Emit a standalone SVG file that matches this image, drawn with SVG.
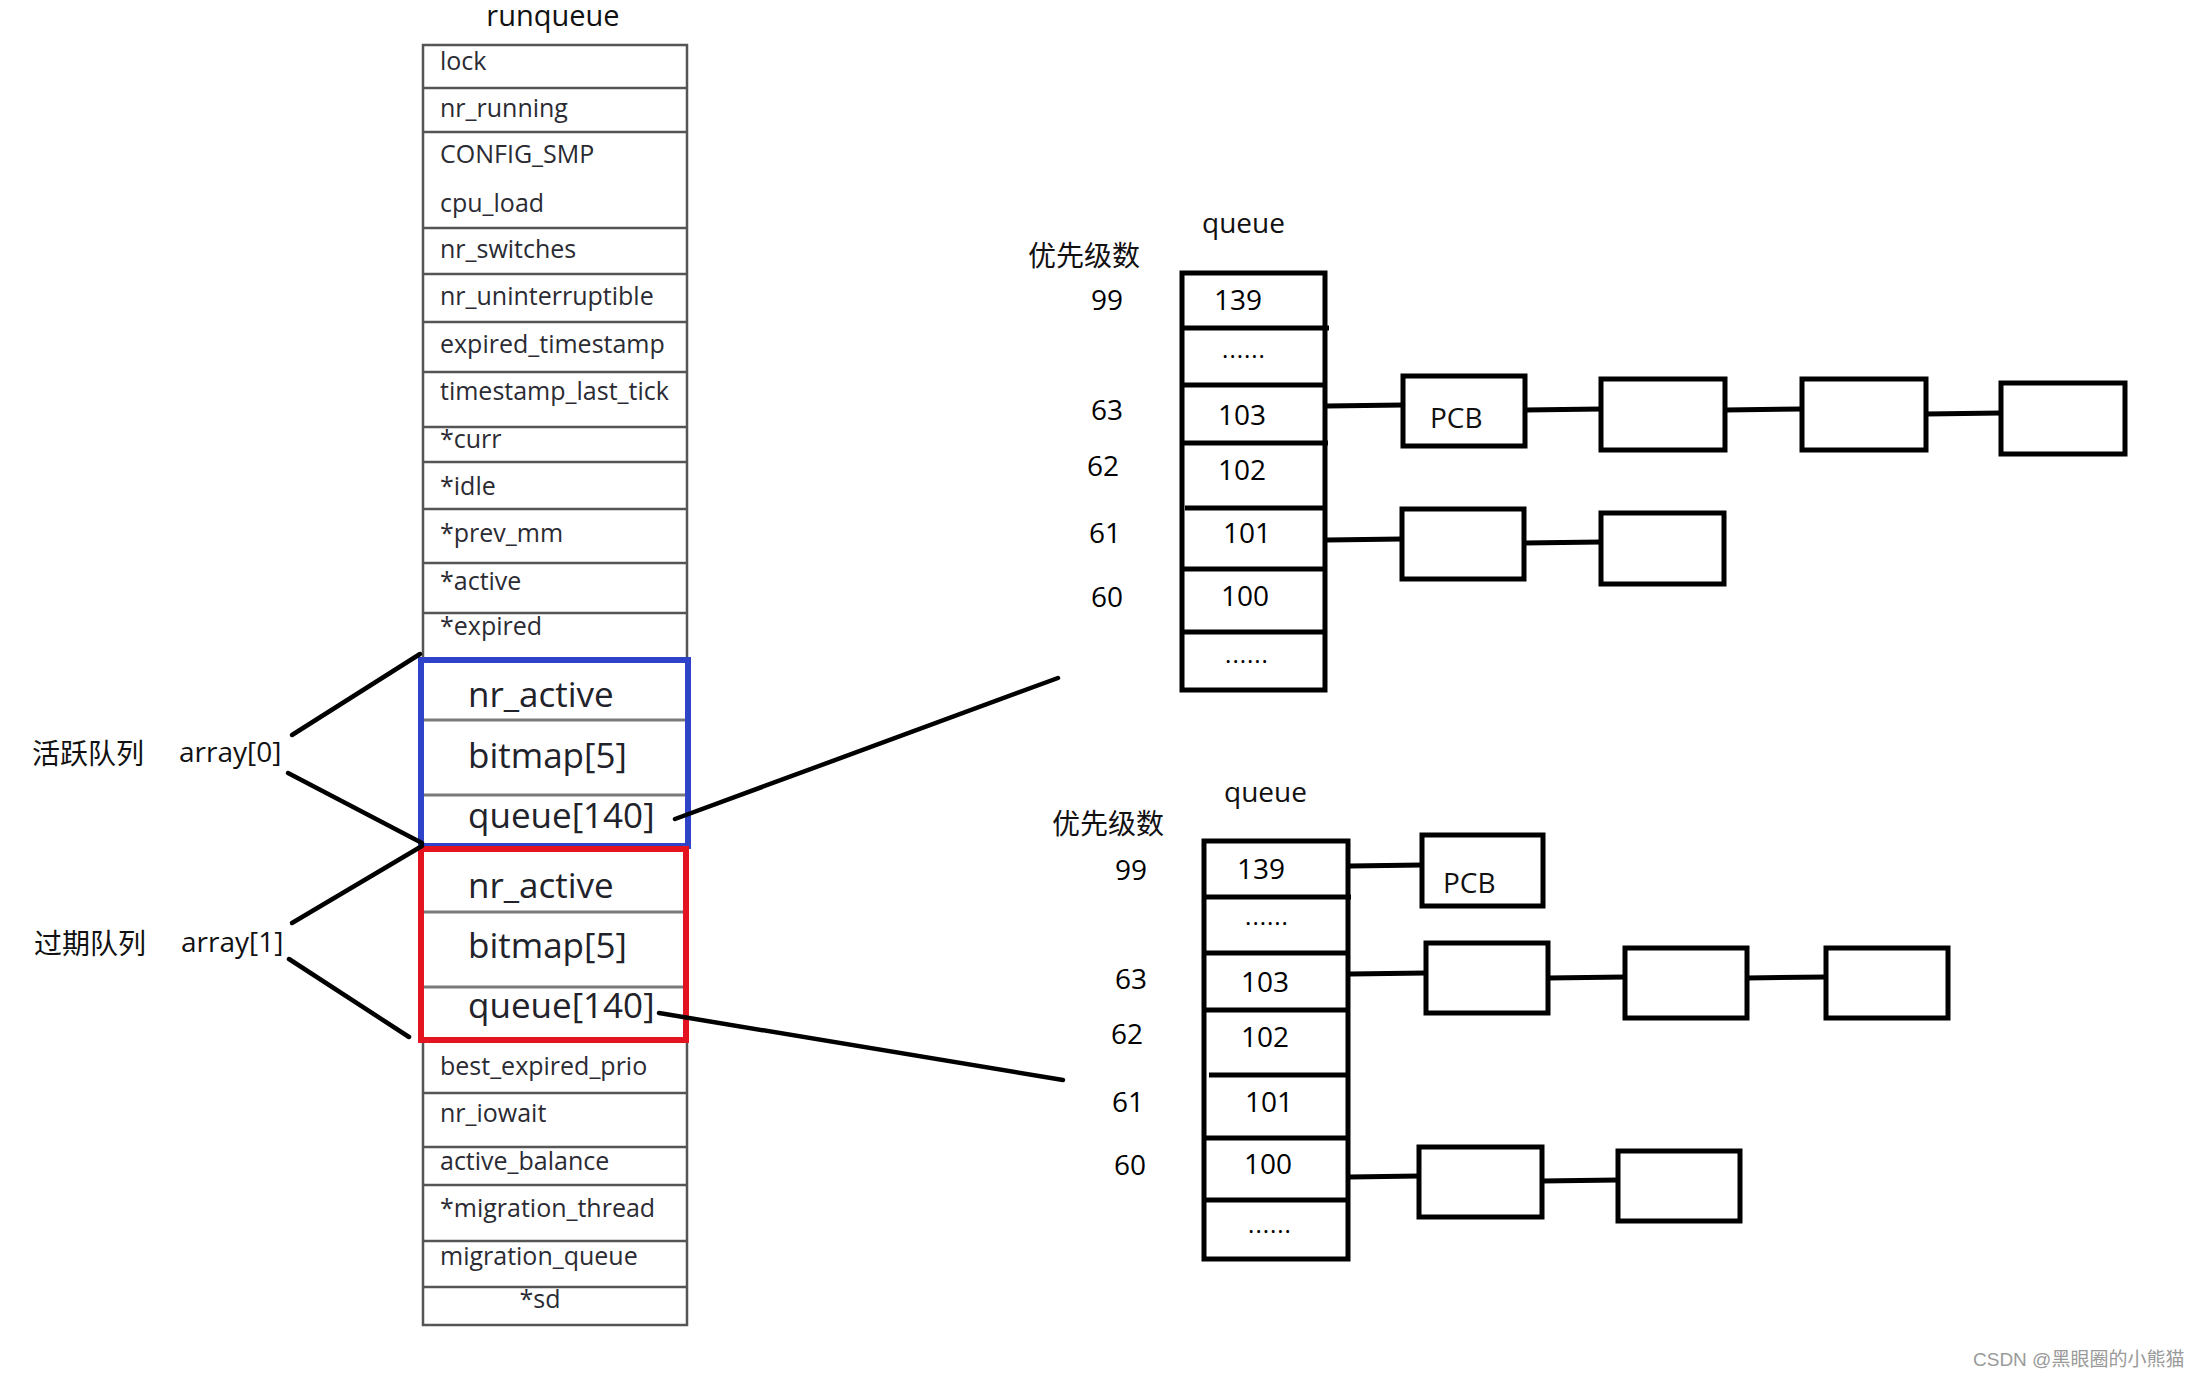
<svg xmlns="http://www.w3.org/2000/svg" width="2199" height="1379" viewBox="0 0 2199 1379">
<style>
.bg{fill:#ffffff}
.tbl{fill:none;stroke:#555;stroke-width:2.5}
.div{stroke:#555;stroke-width:2.5}
.sub{stroke:#7a7a7a;stroke-width:3}
.ft{font-family:"Open Sans","Noto Sans",sans-serif;font-size:25px;fill:#2b2b33}
.big{font-family:"Open Sans","Noto Sans",sans-serif;font-size:35px;fill:#22222a}
.lbl{font-family:"Open Sans","Noto Sans CJK SC",sans-serif;font-size:28px;fill:#111}
.cjk{font-family:"Noto Sans CJK SC","Noto Sans",sans-serif;font-size:28px;fill:#111}
.num{font-family:"Open Sans","Noto Sans",sans-serif;font-size:28px;fill:#000;text-anchor:middle}
.dots{font-family:"Open Sans","Noto Sans",sans-serif;font-size:24px;letter-spacing:1px;fill:#000;text-anchor:middle}
.qbox{fill:none;stroke:#000;stroke-width:5}
.qdiv{stroke:#000;stroke-width:5}
.conn{stroke:#000;stroke-width:4.5;fill:none;stroke-linecap:round}
.wm{font-family:"Liberation Sans","Noto Sans CJK SC",sans-serif;font-size:19px;fill:#9a9a9a}
</style>
<rect class="bg" x="0" y="0" width="2199" height="1379"/>

<g id="runqueue">
  <text class="lbl" x="553" y="26" text-anchor="middle" style="font-size:29px">runqueue</text>
  <rect class="tbl" x="423" y="45" width="264" height="1280"/>
  <line class="div" x1="423" y1="88" x2="687" y2="88"/>
  <line class="div" x1="423" y1="132" x2="687" y2="132"/>
  <line class="div" x1="423" y1="228" x2="687" y2="228"/>
  <line class="div" x1="423" y1="274" x2="687" y2="274"/>
  <line class="div" x1="423" y1="322" x2="687" y2="322"/>
  <line class="div" x1="423" y1="372" x2="687" y2="372"/>
  <line class="div" x1="423" y1="427" x2="687" y2="427"/>
  <line class="div" x1="423" y1="462" x2="687" y2="462"/>
  <line class="div" x1="423" y1="509" x2="687" y2="509"/>
  <line class="div" x1="423" y1="563" x2="687" y2="563"/>
  <line class="div" x1="423" y1="613" x2="687" y2="613"/>
  <line class="div" x1="423" y1="1093" x2="687" y2="1093"/>
  <line class="div" x1="423" y1="1147" x2="687" y2="1147"/>
  <line class="div" x1="423" y1="1185" x2="687" y2="1185"/>
  <line class="div" x1="423" y1="1241" x2="687" y2="1241"/>
  <line class="div" x1="423" y1="1287" x2="687" y2="1287"/>
  <text class="ft" x="440" y="70">lock</text>
  <text class="ft" x="440" y="117">nr_running</text>
  <text class="ft" x="440" y="163">CONFIG_SMP</text>
  <text class="ft" x="440" y="212">cpu_load</text>
  <text class="ft" x="440" y="258">nr_switches</text>
  <text class="ft" x="440" y="305">nr_uninterruptible</text>
  <text class="ft" x="440" y="353">expired_timestamp</text>
  <text class="ft" x="440" y="400">timestamp_last_tick</text>
  <text class="ft" x="440" y="448">*curr</text>
  <text class="ft" x="440" y="495">*idle</text>
  <text class="ft" x="440" y="542">*prev_mm</text>
  <text class="ft" x="440" y="590">*active</text>
  <text class="ft" x="440" y="635">*expired</text>
  <text class="ft" x="440" y="1075">best_expired_prio</text>
  <text class="ft" x="440" y="1122">nr_iowait</text>
  <text class="ft" x="440" y="1170">active_balance</text>
  <text class="ft" x="440" y="1217">*migration_thread</text>
  <text class="ft" x="440" y="1265">migration_queue</text>
  <text class="ft" x="540" y="1308" text-anchor="middle">*sd</text>
</g>

<g id="array0">
  <rect x="421" y="660" width="267" height="186" fill="#fff" stroke="#2f43c9" stroke-width="6"/>
  <line class="sub" x1="424" y1="720" x2="685" y2="720"/>
  <line class="sub" x1="424" y1="795" x2="685" y2="795"/>
  <text class="big" x="468" y="707">nr_active</text>
  <text class="big" x="468" y="768">bitmap[5]</text>
  <text class="big" x="468" y="828">queue[140]</text>
</g>

<g id="array1">
  <rect x="421" y="849" width="265" height="191" fill="#fff" stroke="#e3141f" stroke-width="6"/>
  <line class="sub" x1="424" y1="912" x2="683" y2="912"/>
  <line class="sub" x1="424" y1="987" x2="683" y2="987"/>
  <text class="big" x="468" y="898">nr_active</text>
  <text class="big" x="468" y="958">bitmap[5]</text>
  <text class="big" x="468" y="1018">queue[140]</text>
</g>

<g id="label-active">
  <text class="cjk" x="32" y="764">活跃队列</text>
  <text class="lbl" x="179" y="762">array[0]</text>
</g>
<g id="label-expired">
  <text class="cjk" x="34" y="954">过期队列</text>
  <text class="lbl" x="181" y="952">array[1]</text>
</g>

<g id="queue-active">
  <text class="lbl" x="1202" y="233">queue</text>
  <text class="cjk" x="1028" y="266">优先级数</text>
  <rect class="qbox" x="1182" y="273" width="143" height="417"/>
  <line class="qdiv" x1="1182" y1="328" x2="1329" y2="328"/>
  <line class="qdiv" x1="1182" y1="385" x2="1325" y2="385"/>
  <line class="qdiv" x1="1182" y1="443" x2="1328" y2="443"/>
  <line class="qdiv" x1="1185" y1="508" x2="1325" y2="508"/>
  <line class="qdiv" x1="1182" y1="569" x2="1325" y2="569"/>
  <line class="qdiv" x1="1182" y1="632" x2="1325" y2="632"/>
  <text class="num" x="1238" y="310">139</text>
  <text class="dots" x="1244" y="358">......</text>
  <text class="num" x="1242" y="425">103</text>
  <text class="num" x="1242" y="480">102</text>
  <text class="num" x="1247" y="543">101</text>
  <text class="num" x="1245" y="606">100</text>
  <text class="dots" x="1247" y="663">......</text>
  <text class="num" x="1107" y="310">99</text>
  <text class="num" x="1107" y="420">63</text>
  <text class="num" x="1103" y="476">62</text>
  <text class="num" x="1105" y="543">61</text>
  <text class="num" x="1107" y="607">60</text>
</g>

<g id="pcb-a1"><rect class="qbox" x="1403" y="376" width="122" height="70"/><text class="lbl" x="1430" y="428">PCB</text></g>
<g id="pcb-a2"><rect class="qbox" x="1601" y="379" width="124" height="71"/></g>
<g id="pcb-a3"><rect class="qbox" x="1802" y="379" width="124" height="71"/></g>
<g id="pcb-a4"><rect class="qbox" x="2001" y="383" width="124" height="71"/></g>
<g id="pcb-a5"><rect class="qbox" x="1402" y="509" width="122" height="70"/></g>
<g id="pcb-a6"><rect class="qbox" x="1601" y="513" width="123" height="71"/></g>

<g id="queue-expired">
  <text class="lbl" x="1224" y="802">queue</text>
  <text class="cjk" x="1052" y="834">优先级数</text>
  <rect class="qbox" x="1204" y="841" width="144" height="418"/>
  <line class="qdiv" x1="1204" y1="897" x2="1351" y2="897"/>
  <line class="qdiv" x1="1204" y1="953" x2="1348" y2="953"/>
  <line class="qdiv" x1="1204" y1="1010" x2="1350" y2="1010"/>
  <line class="qdiv" x1="1209" y1="1075" x2="1348" y2="1075"/>
  <line class="qdiv" x1="1204" y1="1138" x2="1348" y2="1138"/>
  <line class="qdiv" x1="1204" y1="1200" x2="1348" y2="1200"/>
  <text class="num" x="1261" y="879">139</text>
  <text class="dots" x="1267" y="925">......</text>
  <text class="num" x="1265" y="992">103</text>
  <text class="num" x="1265" y="1047">102</text>
  <text class="num" x="1269" y="1112">101</text>
  <text class="num" x="1268" y="1174">100</text>
  <text class="dots" x="1270" y="1233">......</text>
  <text class="num" x="1131" y="880">99</text>
  <text class="num" x="1131" y="989">63</text>
  <text class="num" x="1127" y="1044">62</text>
  <text class="num" x="1128" y="1112">61</text>
  <text class="num" x="1130" y="1175">60</text>
</g>

<g id="pcb-e1"><rect class="qbox" x="1422" y="835" width="121" height="71"/><text class="lbl" x="1443" y="893">PCB</text></g>
<g id="pcb-e2"><rect class="qbox" x="1426" y="943" width="122" height="70"/></g>
<g id="pcb-e3"><rect class="qbox" x="1625" y="948" width="122" height="70"/></g>
<g id="pcb-e4"><rect class="qbox" x="1826" y="948" width="122" height="70"/></g>
<g id="pcb-e5"><rect class="qbox" x="1419" y="1147" width="123" height="70"/></g>
<g id="pcb-e6"><rect class="qbox" x="1618" y="1151" width="122" height="70"/></g>

<g id="connectors">
  <line class="conn" x1="292" y1="735" x2="420" y2="654"/>
  <line class="conn" x1="288" y1="773" x2="422" y2="843"/>
  <line class="conn" x1="292" y1="923" x2="422" y2="846"/>
  <line class="conn" x1="289" y1="959" x2="409" y2="1037"/>
  <line class="conn" x1="675" y1="819" x2="1058" y2="678"/>
  <line class="conn" x1="659" y1="1013" x2="1063" y2="1080"/>
  <line class="qdiv" x1="1327" y1="406" x2="1403" y2="405"/>
  <line class="qdiv" x1="1525" y1="410" x2="1601" y2="409"/>
  <line class="qdiv" x1="1725" y1="410" x2="1802" y2="409"/>
  <line class="qdiv" x1="1926" y1="414" x2="2001" y2="413"/>
  <line class="qdiv" x1="1327" y1="540" x2="1402" y2="539"/>
  <line class="qdiv" x1="1524" y1="543" x2="1601" y2="542"/>
  <line class="qdiv" x1="1350" y1="866" x2="1422" y2="865"/>
  <line class="qdiv" x1="1350" y1="974" x2="1426" y2="973"/>
  <line class="qdiv" x1="1548" y1="978" x2="1625" y2="977"/>
  <line class="qdiv" x1="1747" y1="978" x2="1826" y2="977"/>
  <line class="qdiv" x1="1350" y1="1177" x2="1419" y2="1176"/>
  <line class="qdiv" x1="1542" y1="1181" x2="1618" y2="1180"/>
</g>

<text class="wm" x="1973" y="1366">CSDN @黑眼圈的小熊猫</text>
</svg>
